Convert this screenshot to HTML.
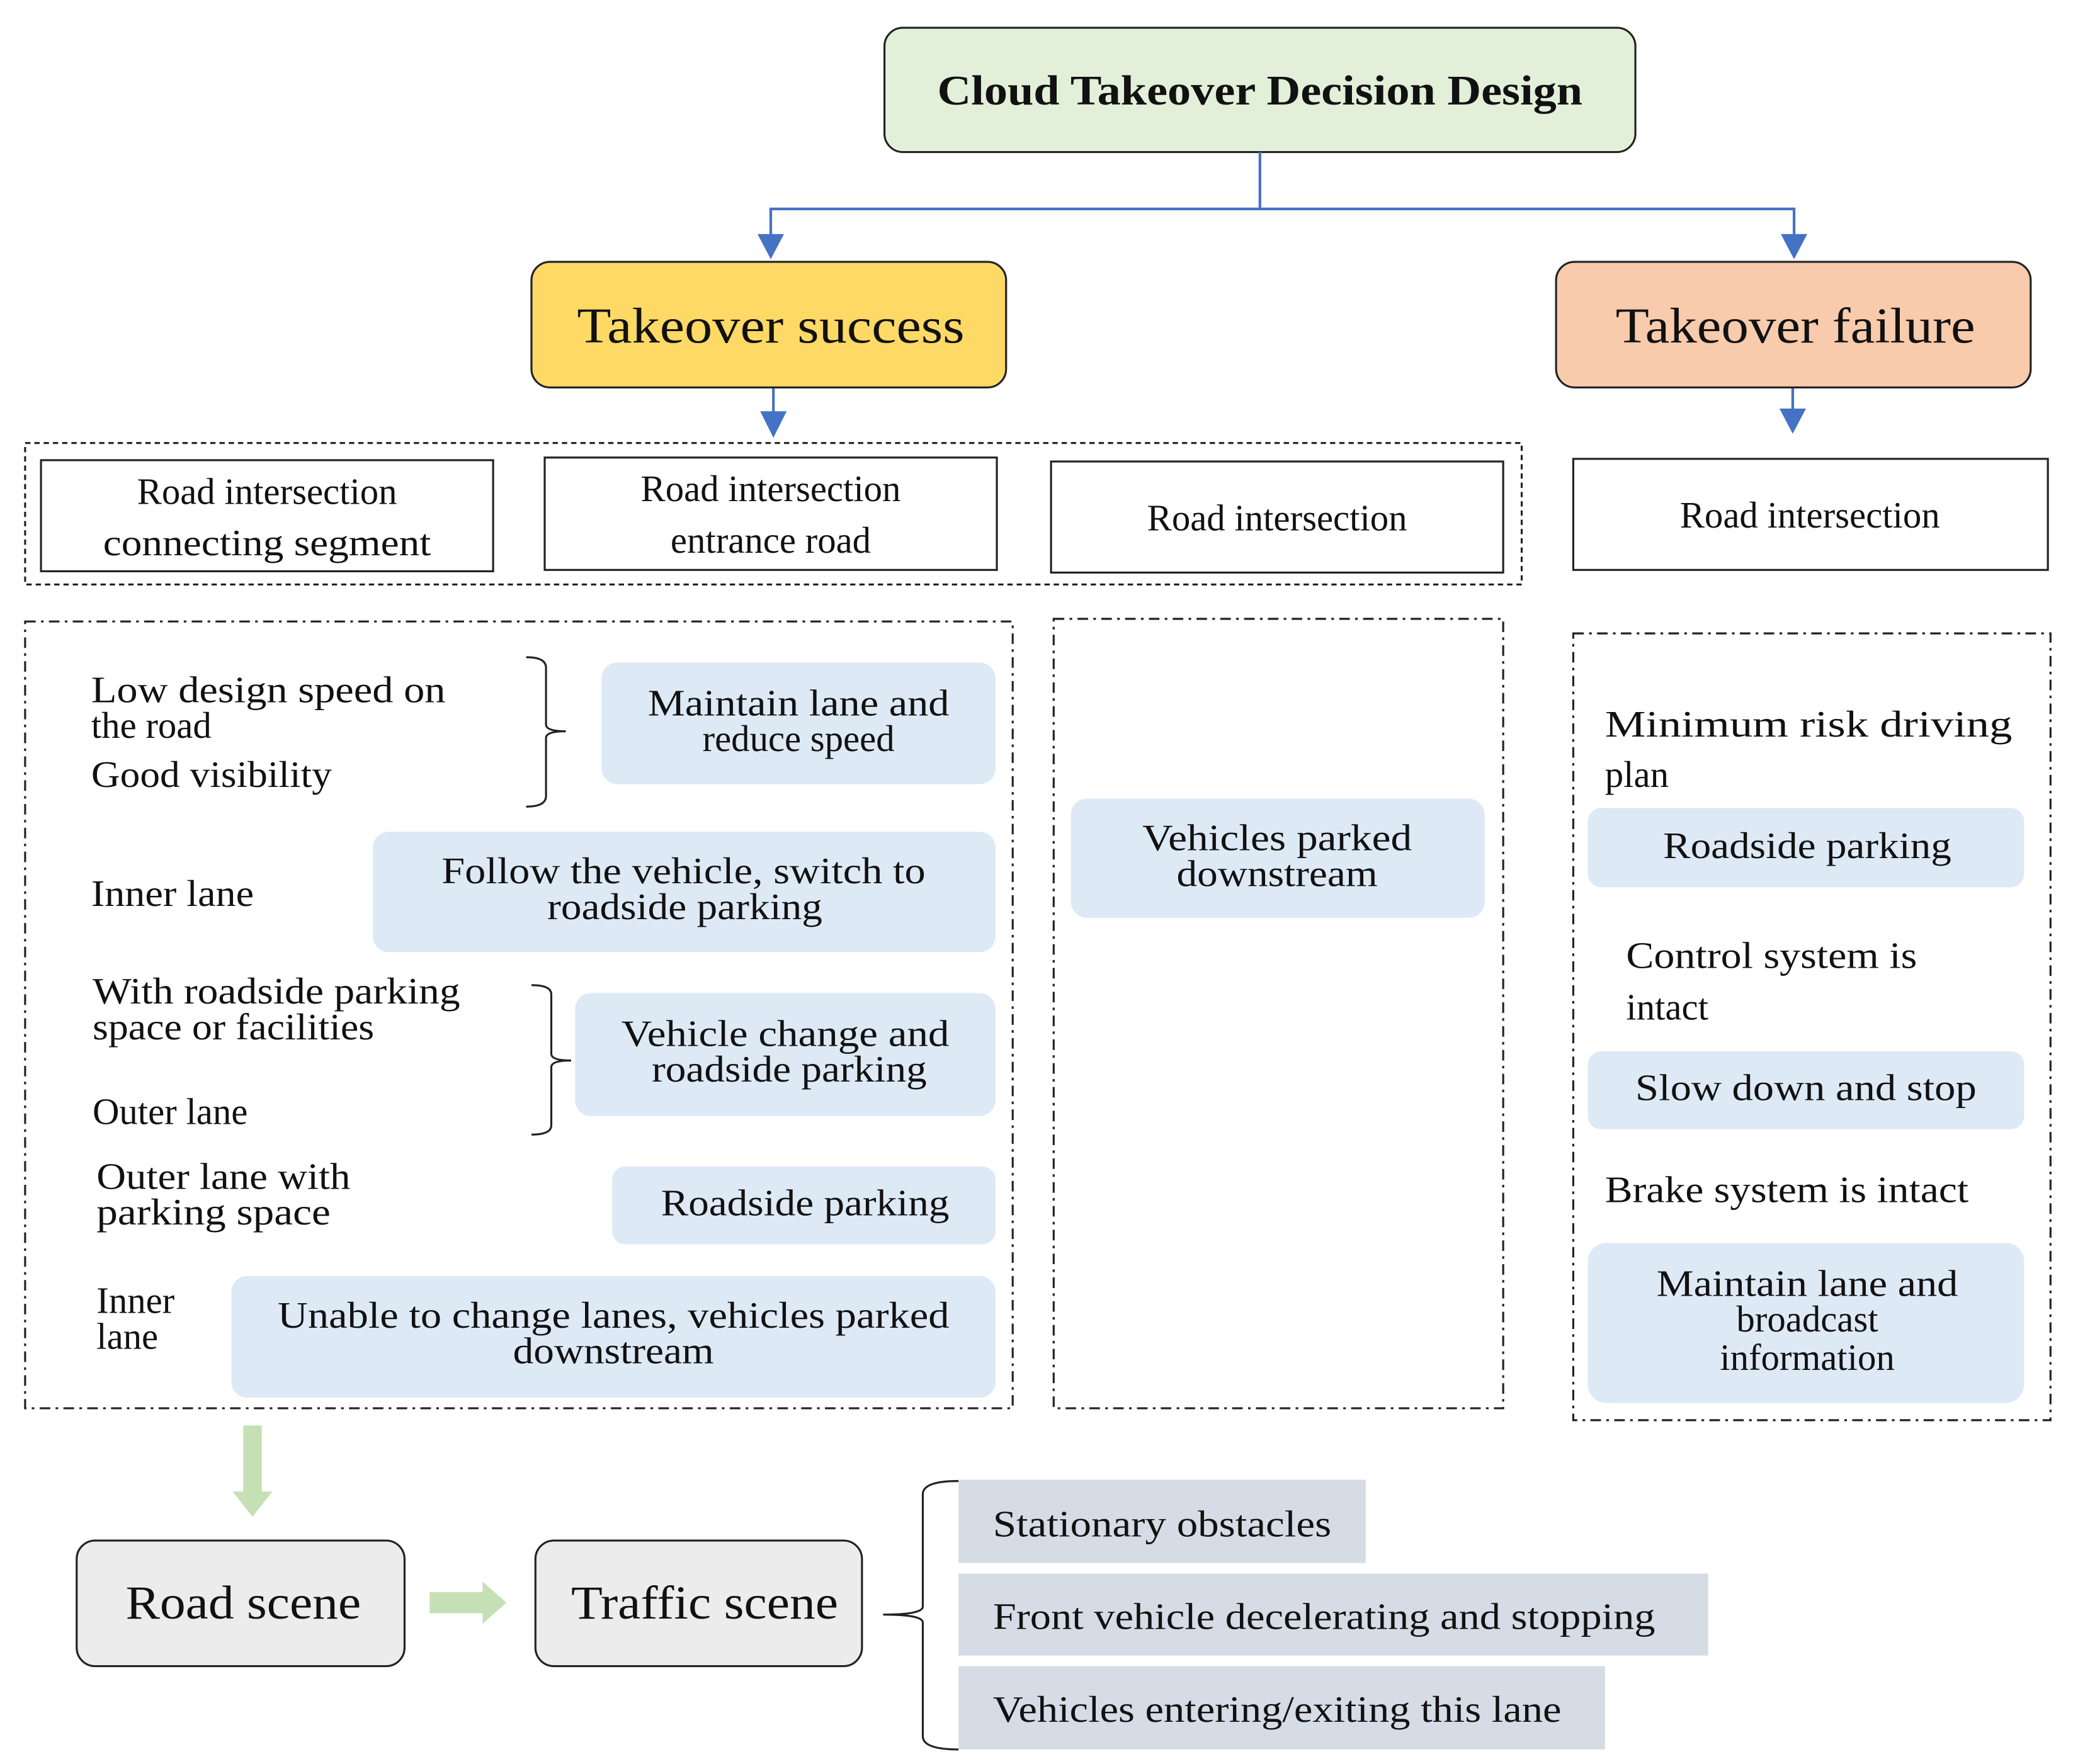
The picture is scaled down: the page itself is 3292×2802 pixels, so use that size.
<!DOCTYPE html>
<html><head><meta charset="utf-8"><style>
html,body{margin:0;padding:0;background:#fff}
svg{display:block}
text{font-family:"Liberation Serif",serif;fill:#111}
</style></head><body>
<svg width="3292" height="2802" viewBox="0 0 1568 1334" preserveAspectRatio="none" xmlns="http://www.w3.org/2000/svg">
<rect x="669" y="21" width="568" height="94" rx="14" fill="#e2efd9" stroke="#222" stroke-width="1.5"/>
<text x="953" y="79" font-size="32" font-weight="bold" text-anchor="middle" textLength="488" lengthAdjust="spacingAndGlyphs">Cloud Takeover Decision Design</text>
<g stroke="#4472c4" stroke-width="2" fill="none">
<path d="M953 115 V158 H583 V180"/>
<path d="M953 158 H1357 V180"/>
<path d="M585 293 V314"/>
<path d="M1356 293 V312"/>
</g>
<g fill="#4472c4">
<polygon points="573,177 593,177 583,196"/>
<polygon points="1347,177 1367,177 1357,196"/>
<polygon points="575,311 595,311 585,331"/>
<polygon points="1346,309 1366,309 1356,328"/>
</g>
<rect x="402" y="198" width="359" height="95" rx="14" fill="#ffd966" stroke="#222" stroke-width="1.5"/>
<text x="583" y="259" font-size="38" text-anchor="middle" textLength="293" lengthAdjust="spacingAndGlyphs">Takeover  success</text>
<rect x="1177" y="198" width="359" height="95" rx="14" fill="#f8cbad" stroke="#222" stroke-width="1.5"/>
<text x="1358" y="259" font-size="38" text-anchor="middle" textLength="272" lengthAdjust="spacingAndGlyphs">Takeover  failure</text>
<rect x="19" y="335" width="1132" height="107" fill="none" stroke="#222" stroke-width="1.5" stroke-dasharray="4,3"/>
<g fill="#fff" stroke="#222" stroke-width="1.5">
<rect x="31" y="348" width="342" height="84"/>
<rect x="412" y="346" width="342" height="85"/>
<rect x="795" y="349" width="342" height="84"/>
<rect x="1190" y="347" width="359" height="84"/>
</g>
<g font-size="28" text-anchor="middle">
<text x="202" y="381">Road intersection</text>
<text x="202" y="420" textLength="248" lengthAdjust="spacingAndGlyphs">connecting segment</text>
<text x="583" y="379">Road intersection</text>
<text x="583" y="418">entrance road</text>
<text x="966" y="401">Road intersection</text>
<text x="1369" y="399">Road intersection</text>
</g>
<g fill="none" stroke="#222" stroke-width="1.5" stroke-dasharray="8,4,2,4">
<rect x="19" y="470" width="747" height="595"/>
<rect x="797" y="468" width="340" height="597"/>
<rect x="1190" y="479" width="361" height="595"/>
</g>
<g fill="#dee9f6">
<rect x="455" y="501" width="298" height="92" rx="12"/>
<rect x="282" y="629" width="471" height="91" rx="12"/>
<rect x="435" y="751" width="318" height="93" rx="12"/>
<rect x="463" y="882" width="290" height="59" rx="10"/>
<rect x="175" y="965" width="578" height="92" rx="12"/>
<rect x="810" y="604" width="313" height="90" rx="12"/>
<rect x="1201" y="611" width="330" height="60" rx="10"/>
<rect x="1201" y="795" width="330" height="59" rx="10"/>
<rect x="1201" y="940" width="330" height="121" rx="14"/>
</g>
<g font-size="28" text-anchor="middle">
<text x="604" y="541" textLength="228" lengthAdjust="spacingAndGlyphs">Maintain  lane  and</text>
<text x="604" y="568">reduce speed</text>
<text x="517" y="668" textLength="366" lengthAdjust="spacingAndGlyphs">Follow the vehicle,  switch to</text>
<text x="518" y="695" textLength="208" lengthAdjust="spacingAndGlyphs">roadside parking</text>
<text x="594" y="791" textLength="248" lengthAdjust="spacingAndGlyphs">Vehicle  change and</text>
<text x="597" y="818" textLength="208" lengthAdjust="spacingAndGlyphs">roadside parking</text>
<text x="609" y="919" textLength="218" lengthAdjust="spacingAndGlyphs">Roadside parking</text>
<text x="464" y="1004" textLength="508" lengthAdjust="spacingAndGlyphs">Unable  to change lanes,  vehicles  parked</text>
<text x="464" y="1031" textLength="152" lengthAdjust="spacingAndGlyphs">downstream</text>
<text x="966" y="643" textLength="204" lengthAdjust="spacingAndGlyphs">Vehicles  parked</text>
<text x="966" y="670" textLength="152" lengthAdjust="spacingAndGlyphs">downstream</text>
<text x="1367" y="649" textLength="218" lengthAdjust="spacingAndGlyphs">Roadside parking</text>
<text x="1366" y="832" textLength="258" lengthAdjust="spacingAndGlyphs">Slow down and stop</text>
<text x="1367" y="980" textLength="228" lengthAdjust="spacingAndGlyphs">Maintain  lane  and</text>
<text x="1367" y="1007">broadcast</text>
<text x="1367" y="1036">information</text>
</g>
<g font-size="28">
<text x="69" y="531" textLength="268" lengthAdjust="spacingAndGlyphs">Low design  speed on</text>
<text x="69" y="558">the road</text>
<text x="69" y="595" textLength="182" lengthAdjust="spacingAndGlyphs">Good visibility</text>
<text x="69" y="685" textLength="123" lengthAdjust="spacingAndGlyphs">Inner  lane</text>
<text x="70" y="759" textLength="278" lengthAdjust="spacingAndGlyphs">With roadside parking</text>
<text x="70" y="786" textLength="213" lengthAdjust="spacingAndGlyphs">space or facilities</text>
<text x="70" y="850">Outer lane</text>
<text x="73" y="899" textLength="192" lengthAdjust="spacingAndGlyphs">Outer lane  with</text>
<text x="73" y="926" textLength="177" lengthAdjust="spacingAndGlyphs">parking  space</text>
<text x="73" y="993">Inner</text>
<text x="73" y="1020">lane</text>
<text x="1214" y="557" textLength="308" lengthAdjust="spacingAndGlyphs">Minimum   risk   driving</text>
<text x="1214" y="595">plan</text>
<text x="1230" y="732" textLength="220" lengthAdjust="spacingAndGlyphs">Control system is</text>
<text x="1230" y="771">intact</text>
<text x="1214" y="909" textLength="275" lengthAdjust="spacingAndGlyphs">Brake system is intact</text>
</g>
<g fill="none" stroke="#222" stroke-width="1.5">
<path d="M398 497 Q413 497 413 505 V548 Q413 553 428 553 Q413 553 413 558 V602 Q413 610 398 610"/>
<path d="M402 745 Q417 745 417 752 V797 Q417 802 432 802 Q417 802 417 807 V851 Q417 858 402 858"/>
<path d="M725 1120 Q698 1120 698 1130 V1215 Q698 1221 668 1221 Q698 1221 698 1227 V1313 Q698 1323 725 1323"/>
</g>
<g fill="#c5e0b4">
<path d="M184 1078 H198 V1128 H206 L191 1147 L176 1128 H184 z"/>
<path d="M325 1204 H365 V1196 L383 1212 L365 1228 V1220 H325 z"/>
</g>
<rect x="58" y="1165" width="248" height="95" rx="14" fill="#ececec" stroke="#222" stroke-width="1.5"/>
<text x="184" y="1224" font-size="36" text-anchor="middle" textLength="178" lengthAdjust="spacingAndGlyphs">Road scene</text>
<rect x="405" y="1165" width="247" height="95" rx="14" fill="#ececec" stroke="#222" stroke-width="1.5"/>
<text x="533" y="1224" font-size="36" text-anchor="middle" textLength="202" lengthAdjust="spacingAndGlyphs">Traffic scene</text>
<g fill="#d6dce5">
<rect x="725" y="1119" width="308" height="63"/>
<rect x="725" y="1190" width="567" height="62"/>
<rect x="725" y="1260" width="489" height="63"/>
</g>
<g font-size="28">
<text x="751" y="1162" textLength="256" lengthAdjust="spacingAndGlyphs">Stationary  obstacles</text>
<text x="751" y="1232" textLength="501" lengthAdjust="spacingAndGlyphs">Front vehicle  decelerating  and stopping</text>
<text x="751" y="1302" textLength="430" lengthAdjust="spacingAndGlyphs">Vehicles  entering/exiting   this  lane</text>
</g>
</svg>
</body></html>
